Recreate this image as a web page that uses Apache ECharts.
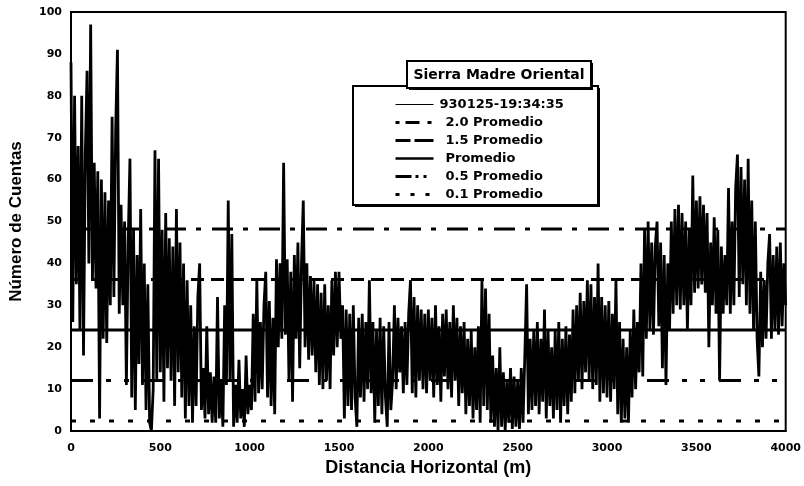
<!DOCTYPE html>
<html>
<head>
<meta charset="utf-8">
<title>Sierra Madre Oriental</title>
<script src="https://cdn.jsdelivr.net/npm/echarts@6/dist/echarts.min.js"></script>
<style>
  html, body { margin: 0; padding: 0; background: #fff; }
  #main { width: 804px; height: 486px; }
</style>
</head>
<body>
<div id="main"></div>
<script>
var paso = 10
var conteos = [
  88, 26, 80, 35, 68, 24, 80, 18, 66, 86,
  40, 97, 36, 64, 34, 62, 3, 60, 22, 57,
  21, 55, 30, 75, 32, 72, 91, 28, 54, 30,
  50, 11, 45, 65, 8, 48, 5, 42, 16, 53,
  11, 40, 5, 35, 2, 0, 10, 67, 12, 65,
  14, 48, 7, 52, 15, 46, 12, 44, 6, 53,
  14, 45, 8, 40, 3, 36, 6, 30, 2, 25,
  6, 32, 40, 5, 15, 3, 25, 4, 14, 2,
  13, 2, 32, 3, 12, 1, 30, 11, 55, 12,
  47, 1, 11, 2, 17, 3, 10, 1, 18, 4,
  11, 5, 28, 7, 36, 9, 26, 10, 30, 38,
  8, 31, 6, 27, 4, 41, 20, 40, 22, 64,
  23, 41, 12, 38, 7, 42, 22, 45, 15, 40,
  55, 20, 40, 17, 37, 18, 36, 14, 35, 11,
  33, 10, 35, 12, 30, 10, 36, 18, 38, 20,
  38, 22, 30, 3, 29, 6, 28, 5, 30, 8,
  1, 27, 8, 28, 7, 26, 10, 36, 9, 26,
  2, 24, 6, 27, 4, 25, 8, 1, 26, 5,
  12, 30, 10, 27, 14, 25, 9, 26, 11, 28,
  36, 9, 32, 8, 30, 12, 29, 10, 28, 9,
  29, 12, 27, 8, 30, 11, 25, 7, 28, 13,
  29, 10, 26, 8, 30, 12, 27, 6, 25, 9,
  26, 4, 22, 6, 24, 3, 20, 5, 25, 2,
  36, 6, 34, 5, 28, 2, 18, 1, 15, 0,
  20, 1, 14, 0, 12, 2, 15, 0.5, 13, 1,
  12, 0.5, 15, 2, 18, 35, 4, 22, 5, 24,
  6, 26, 4, 22, 7, 29, 3, 24, 6, 20,
  3, 24, 5, 26, 2, 22, 6, 25, 4, 23,
  7, 29, 9, 30, 12, 33, 10, 31, 14, 36,
  12, 35, 10, 32, 11, 40, 7, 32, 9, 30,
  8, 31, 7, 28, 10, 36, 4, 26, 2, 22,
  3, 20, 2, 24, 8, 29, 10, 26, 14, 40,
  13, 48, 22, 50, 24, 45, 23, 44, 50, 25,
  45, 15, 42, 11, 40, 24, 50, 28, 53, 30,
  54, 29, 52, 30, 50, 24, 48, 30, 61, 33,
  55, 34, 56, 35, 54, 33, 52, 20, 45, 30,
  51, 28, 48, 12, 44, 28, 42, 30, 58, 28,
  50, 30, 58, 66, 32, 63, 35, 60, 30, 65,
  28, 55, 24, 50, 22, 13, 38, 20, 36, 22,
  40, 47, 22, 42, 24, 44, 23, 45, 25, 40,
  30
]

// niveles de referencia (multiplos del promedio)
var nombresNiveles = ["2.0 Promedio", "1.5 Promedio", "Promedio", "0.5 Promedio", "0.1 Promedio"]
var valoresNiveles = [48.2, 36.15, 24.1, 12.05, 2.41]
var tiposNiveles = [[21, 10, 5, 11], [13, 7], "solid", [22, 13, 5, 13, 5, 14], [5, 14]]
// trazos de los iconos de la leyenda
var tiposLeyenda = [[4, 6, 14, 8, 4, 20], [15, 4, 19, 10], "solid", [16, 4, 3, 5, 3, 20], [4, 11, 4, 11, 4, 20]]

var ejeX = [0, 4000, 500]
var ejeY = [0, 100, 10]
var nombreSerie = "930125-19:34:35"

var chart = echarts.init(document.getElementById("main"), null, { renderer: "canvas" })

var puntos = conteos.map(function (v, i) {
  return [i * paso, v]
})

var series = [
  {
    name: nombreSerie,
    type: "line",
    data: puntos,
    symbol: "none",
    showSymbol: false,
    silent: true,
    sampling: null,
    itemStyle: { color: "#000" },
    lineStyle: { color: "#000", width: 2.8, join: "bevel" },
    z: 2
  }
]
var datosLeyenda = [
  { name: nombreSerie, lineStyle: { width: 1, color: "#000" }, textStyle: { padding: [0, 0, 0, 1] } }
]
nombresNiveles.forEach(function (n, i) {
  series.push({
    name: n,
    type: "line",
    data: [[ejeX[0], valoresNiveles[i]], [ejeX[1], valoresNiveles[i]]],
    symbol: "none",
    showSymbol: false,
    silent: true,
    itemStyle: { color: "#000" },
    lineStyle: { color: "#000", width: 3, type: tiposNiveles[i], cap: "butt" },
    z: 3
  })
  datosLeyenda.push({ name: n, lineStyle: { width: i === 2 ? 2.5 : 3, type: tiposLeyenda[i], color: "#000" } })
})

var option = {
  animation: false,
  backgroundColor: "#fff",
  grid: {
    left: 67,
    right: 18,
    top: 12,
    bottom: 55,
    show: true,
    borderColor: "#000",
    borderWidth: 2
  },
  xAxis: {
    type: "value",
    min: ejeX[0],
    max: ejeX[1],
    interval: ejeX[2],
    name: "Distancia Horizontal (m)",
    nameLocation: "middle",
    nameGap: 27,
    nameTextStyle: { fontFamily: "Liberation Sans", fontWeight: "bold", fontSize: 18, color: "#000" },
    axisLine: { lineStyle: { color: "#000", width: 2 } },
    axisTick: { show: false },
    splitLine: { show: false },
    axisLabel: {
      margin: 12, fontFamily: "DejaVu Sans", fontWeight: "bold", fontSize: 11, color: "#000",
      formatter: function (v) { return String(v) }
    }
  },
  yAxis: {
    type: "value",
    min: ejeY[0],
    max: ejeY[1],
    interval: ejeY[2],
    name: "Número de Cuentas",
    nameLocation: "middle",
    nameGap: 46,
    nameTextStyle: { fontFamily: "Liberation Sans", fontWeight: "bold", fontSize: 17, color: "#000" },
    axisLine: { show: true, lineStyle: { color: "#000", width: 2 } },
    axisTick: { show: false },
    splitLine: { show: false },
    axisLabel: { margin: 9, fontFamily: "DejaVu Sans", fontWeight: "bold", fontSize: 11, color: "#000" }
  },
  legend: {
    orient: "vertical",
    left: 394,
    top: 98,
    itemWidth: 38,
    itemHeight: 14,
    itemGap: 5,
    padding: 0,
    selectedMode: false,
    data: datosLeyenda,
    itemStyle: { color: "rgba(0,0,0,0)", borderWidth: 0 },
    textStyle: { fontFamily: "DejaVu Sans", fontWeight: "bold", fontSize: 13, color: "#000", padding: [0, 0, 0, 7] },
    z: 6
  },
  graphic: [
    // cuadro de la leyenda
    { type: "rect", z: 3, shape: { x: 355, y: 88, width: 245, height: 119 }, style: { fill: "#000" } },
    { type: "rect", z: 4, shape: { x: 353, y: 86, width: 245, height: 119 }, style: { fill: "#fff", stroke: "#000", lineWidth: 2 } },
    // cuadro del titulo
    { type: "rect", z: 5, shape: { x: 409, y: 63, width: 184, height: 27 }, style: { fill: "#000" } },
    { type: "rect", z: 5, shape: { x: 407, y: 61, width: 184, height: 27 }, style: { fill: "#fff", stroke: "#000", lineWidth: 2 } },
    {
      type: "text", z: 6, x: 499, y: 75,
      style: { text: "Sierra Madre Oriental", fill: "#000", font: "bold 14px 'DejaVu Sans'", align: "center", verticalAlign: "middle" }
    }
  ],
  series: series
}

chart.setOption(option)
</script>
</body>
</html>
